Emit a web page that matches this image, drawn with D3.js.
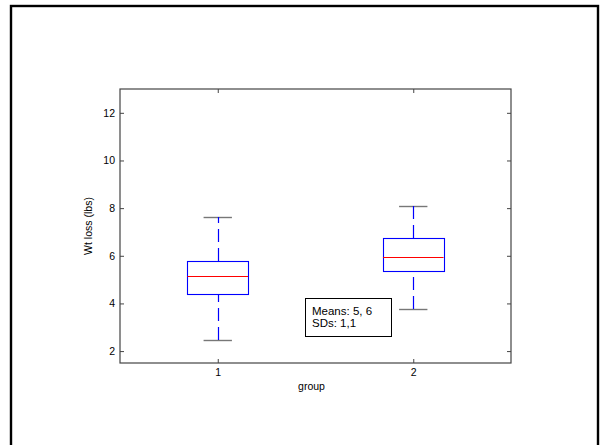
<!DOCTYPE html>
<html>
<head>
<meta charset="utf-8">
<script src="https://cdn.jsdelivr.net/npm/d3@7"></script>
<style>
html,body{margin:0;padding:0;background:#fff;}
svg{display:block;}
text{font-family:"Liberation Sans",Arial,Helvetica,sans-serif;fill:#000;}
</style>
</head>
<body>
<svg id="chart" width="600" height="445"></svg>
<script>
// ---- data ----
const groups = ["1", "2"];
const positions = [1, 2];
const lowerWhisker = [2.45, 3.77];
const q1 = [4.40, 5.38];
const median = [5.17, 5.95];
const q3 = [5.77, 6.75];
const upperWhisker = [7.61, 8.07];
const yTicks = [2, 4, 6, 8, 10, 12];
const annotationLines = ["Means: 5, 6", "SDs: 1,1"];
const yLabel = "Wt loss (lbs)";
const xLabel = "group";

// ---- layout ----
const svg = d3.select("#chart");
const L = 120, R = 511, T = 89, B = 363;
const x = d3.scaleLinear().domain([0.5, 2.5]).range([L, R]);
const y = d3.scaleLinear().domain([1.5, 13]).range([B, T]);
const boxW = 0.31, capW = 0.145;

// outer frame
svg.append("rect").attr("x", 11).attr("y", 6).attr("width", 587).attr("height", 470)
  .attr("fill", "#fff").attr("stroke", "#000").attr("stroke-width", 2.4);

// axes box
svg.append("rect").attr("x", L).attr("y", T).attr("width", R - L).attr("height", B - T)
  .attr("fill", "#fff").attr("stroke", "#444").attr("stroke-width", 1.2);

const data = groups.map((g, i) => ({
  g, pos: positions[i], lo: lowerWhisker[i], q1: q1[i], med: median[i], q3: q3[i], hi: upperWhisker[i]
}));

// axes
const axL = svg.append("g").attr("transform", `translate(${L},0)`)
  .call(d3.axisLeft(y).tickValues(yTicks).tickSize(-4).tickPadding(5).tickFormat(d3.format("d")));
const axR = svg.append("g").attr("transform", `translate(${R},0)`)
  .call(d3.axisRight(y).tickValues(yTicks).tickSize(-4).tickFormat(""));
const axB = svg.append("g").attr("transform", `translate(0,${B})`)
  .call(d3.axisBottom(x).tickValues(positions).tickSize(-4).tickPadding(6).tickFormat((d, i) => groups[i]));
const axT = svg.append("g").attr("transform", `translate(0,${T})`)
  .call(d3.axisTop(x).tickValues(positions).tickSize(-4).tickFormat(""));
[axL, axR, axB, axT].forEach(a => {
  a.select(".domain").remove();
  a.selectAll(".tick line").attr("stroke", "#444");
  a.selectAll("text").attr("font-size", "10.5px").attr("fill", "#000")
    .attr("font-family", "'Liberation Sans',Arial,sans-serif");
});

// boxes
const gb = svg.append("g");
data.forEach(d => {
  const cx = Math.round(x(d.pos)) + 0.5;
  // caps
  [d.lo, d.hi].forEach(v => {
    gb.append("line").attr("x1", x(d.pos - capW / 2)).attr("x2", x(d.pos + capW / 2))
      .attr("y1", Math.round(y(v)) + 0.5).attr("y2", Math.round(y(v)) + 0.5)
      .attr("stroke", "#777").attr("stroke-width", 1.4);
  });
  // whiskers (dashed)
  gb.append("line").attr("x1", cx).attr("x2", cx).attr("y1", Math.round(y(d.q3))).attr("y2", Math.round(y(d.hi)))
    .style("stroke", "#0000ff").style("stroke-width", "1.2px").attr("stroke-dasharray", "13,6");
  gb.append("line").attr("x1", cx).attr("x2", cx).attr("y1", Math.round(y(d.lo))).attr("y2", Math.round(y(d.q1)))
    .style("stroke", "#0000ff").style("stroke-width", "1.2px").attr("stroke-dasharray", "13,6");
  // box
  gb.append("rect")
    .attr("x", Math.round(x(d.pos - boxW / 2)) + 0.5).attr("y", Math.round(y(d.q3)) + 0.5)
    .attr("width", Math.round(x(d.pos + boxW / 2) - x(d.pos - boxW / 2)))
    .attr("height", Math.round(y(d.q1) - y(d.q3)))
    .attr("fill", "none").attr("stroke", "#0000ff").attr("stroke-width", 1.1);
  // median
  gb.append("line").attr("x1", x(d.pos - boxW / 2)).attr("x2", x(d.pos + boxW / 2))
    .attr("y1", Math.round(y(d.med)) + 0.5).attr("y2", Math.round(y(d.med)) + 0.5)
    .attr("stroke", "#ff0000").attr("stroke-width", 1.1);
});

// axis labels
svg.append("text").attr("transform", `translate(92,${(T + B) / 2}) rotate(-90)`)
  .attr("text-anchor", "middle").attr("font-size", "10.5px").text(yLabel);
svg.append("text").attr("x", (L + R) / 2 - 4).attr("y", 390)
  .attr("text-anchor", "middle").attr("font-size", "10.5px").text(xLabel);

// annotation box
const ann = svg.append("g");
ann.append("rect").attr("x", 305.5).attr("y", 298.5).attr("width", 86).attr("height", 38)
  .attr("fill", "#fff").attr("stroke", "#000").attr("stroke-width", 1);
ann.selectAll("text.ann").data(annotationLines).join("text").attr("class", "ann")
  .attr("x", 312).attr("y", (d, i) => 315 + i * 12)
  .attr("font-size", "11.5px").text(d => d);
</script>
</body>
</html>
